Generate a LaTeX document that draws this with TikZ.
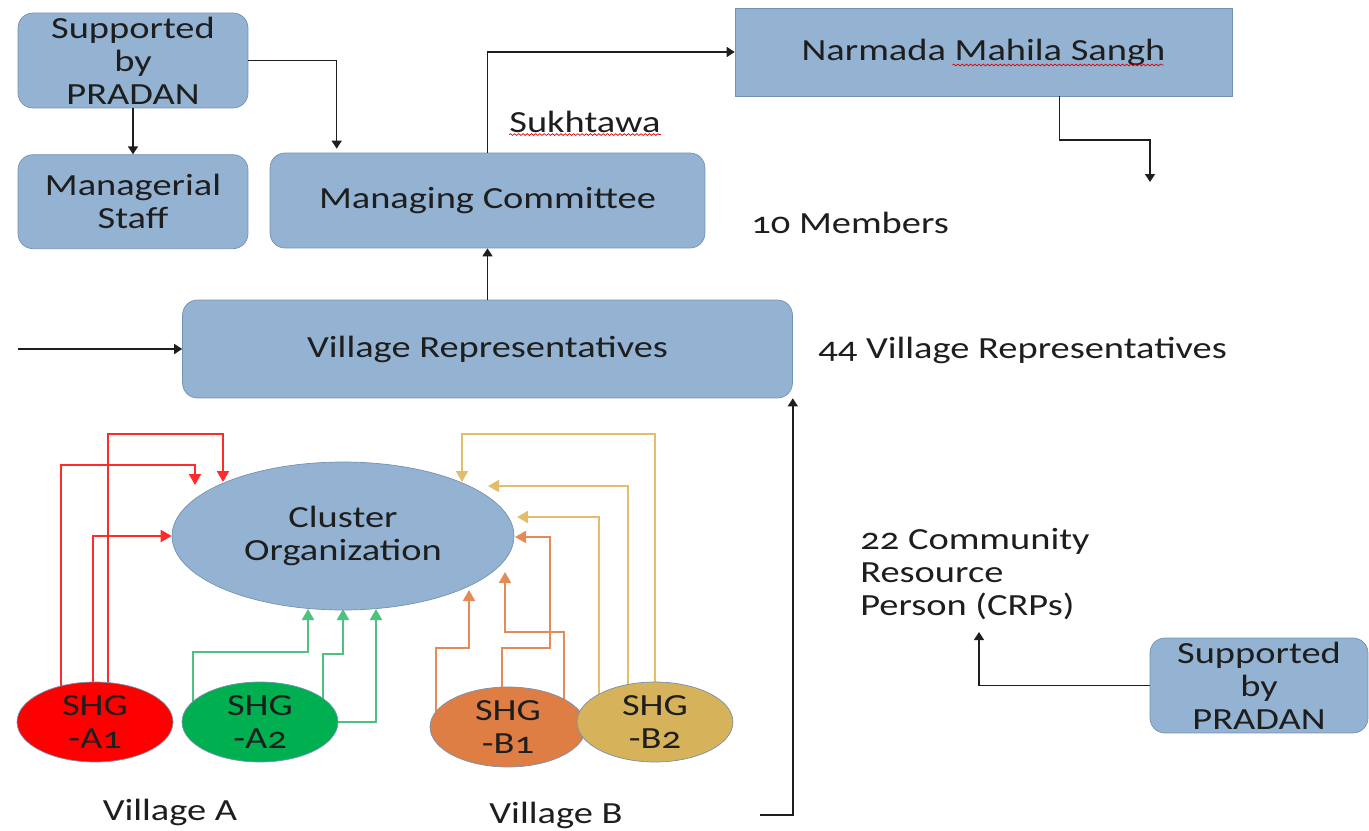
\documentclass[tikz,border=0pt]{standalone}
\usepackage{fontspec}
\setmainfont[FakeStretch=1.25,Numbers=OldStyle]{Carlito}
\usepackage{tikz}
\usetikzlibrary{arrows.meta, positioning, shapes.geometric, backgrounds, calc, decorations.pathmorphing}
\definecolor{boxFill}{HTML}{94B3D2}
\definecolor{boxLine}{HTML}{7491B0}
\definecolor{inkDark}{HTML}{1E1E1E}
\definecolor{shgRed}{HTML}{FF0000}
\definecolor{shgGreen}{HTML}{00B050}
\definecolor{shgOrange}{HTML}{DE7E45}
\definecolor{shgGold}{HTML}{D6B25A}
\definecolor{lineRed}{HTML}{FF2A2A}
\definecolor{lineGreen}{HTML}{4CC27E}
\definecolor{lineOrange}{HTML}{E58A55}
\definecolor{lineGold}{HTML}{E2BE6A}
\newcommand\orgfont{\fontsize{17.5pt}{18.8pt}\selectfont}

\begin{document}
\begin{tikzpicture}[
  x=0.02cm, y=-0.02cm,
  unit/.style={draw=boxLine, fill=boxFill, rounded corners=0.3cm, align=center, font=\orgfont, text=inkDark, inner sep=0pt},
  shg/.style={ellipse, draw=boxLine, minimum width=3.12cm, minimum height=1.6cm, align=center, font=\orgfont, text=inkDark, inner sep=-2pt},
  note/.style={align=left, font=\orgfont, text=inkDark, inner sep=0pt},
  link/.style={-{Triangle[length=1.6mm, width=2mm]}, line width=0.9pt, inkDark},
  feed/.style={-{Triangle[length=2.2mm, width=2.4mm]}, line width=1.1pt},
  spell/.style={draw=red!85!black, line width=0.4pt, decorate, decoration={snake, amplitude=0.5pt, segment length=2.4pt}}
]
  \useasboundingbox (0,0) rectangle (1369,831);

  % top boxes
  \node[unit, minimum width=4.6cm, minimum height=1.9cm] (sup) at (133,60.5) {Supported\\by\\PRADAN};
  \node[unit, minimum width=4.6cm, minimum height=1.88cm, below=0.92cm of sup] (staff) {Managerial\\Staff};
  \node[unit, minimum width=8.7cm, minimum height=1.9cm] (mc) at (487.5,200.5) {Managing Committee};
  \node[unit, rounded corners=0pt, minimum width=9.94cm, minimum height=1.76cm] (nms) at (983.5,52) {Narmada Mahila Sangh};
  \node[unit, minimum width=12.2cm, minimum height=1.96cm] (vr) at (487.5,349) {Village Representatives};

  % cluster and SHGs
  \node[shg, fill=boxFill, minimum width=6.84cm, minimum height=2.96cm] (co) at (343,536) {Cluster\\Organization};
  \node[shg, fill=shgRed] (a1) at (95,722) {SHG\\-A1};
  \node[shg, fill=shgGreen] (a2) at (260,722) {SHG\\-A2};
  \node[shg, fill=shgOrange] (b1) at (508,727) {SHG\\-B1};
  \node[shg, fill=shgGold] (b2) at (655,722) {SHG\\-B2};

  \node[unit, minimum width=4.36cm, minimum height=1.9cm] (sup2) at (1259,685.5) {Supported\\by\\PRADAN};

  % side notes
  \node[note] (sukh) at (585,122) {Sukhtawa};
  \node[note, anchor=west] (mem) at (751,223) {10 Members};
  \node[note, anchor=west] (vrnum) at (818,350) {44 Village Representatives};
  \node[note, anchor=west] (crp) at (860,574) {22 Community\\Resource\\Person (CRPs)};
  \node[note] (vila) at (170,812) {Village A};
  \node[note] (vilb) at (556,815) {Village B};

  \draw[spell] ($(sukh.base west)+(0,2)$) -- ($(sukh.base east)+(0,2)$);
  \draw[spell] ($(nms.center)+(-31,13)$) -- ($(nms.center)+(180,13)$);

  % black links
  \coordinate (nmsout) at (1150,182);
  \coordinate (vrin) at (18,349);
  \coordinate (crpin) at (760,815);
  \coordinate (crpto) at (979,632);
  \draw[link] (sup) -- (staff);
  \draw[link] (sup.east) -| ($(mc.north west)+(67,-4)$);
  \draw[link] (mc.north) |- (nms.west);
  \draw[link] ($(nms.south)+(76,0)$) |- ($(nmsout)+(0,-42)$) -- (nmsout);
  \draw[link] (vr) -- (mc);
  \draw[link] (vrin) -- (vr.west);
  \draw[link] (crpin) -| (vr.south east);
  \draw[link] (sup2.west) -| (crpto);

  % SHG feeds into the cluster
  \begin{scope}[on background layer]
    \draw[feed, lineRed] ($(a1)+(-34,0)$) |- ($(co)+(-148,-71)$) -- ($(co)+(-148,-51)$);
    \draw[feed, lineRed] ($(a1)+(13,0)$) |- ($(co)+(-120,-102)$) -- ($(co)+(-120,-54)$);
    \draw[feed, lineRed] ($(a1)+(-2,0)$) |- (co.west);
    \draw[feed, lineGreen] ($(a2)+(-67,0)$) |- ($(co)+(-35,116)$) -- ($(co)+(-35,73)$);
    \draw[feed, lineGreen] ($(a2)+(63,0)$) |- ($(co)+(0,118)$) -- ($(co)+(0,73)$);
    \draw[feed, lineGreen] (a2.east) -| ($(co)+(33,73)$);
    \draw[feed, lineOrange] ($(b1)+(-72,0)$) |- ($(co)+(126,112)$) -- ($(co)+(126,54)$);
    \draw[feed, lineOrange] ($(b1)+(-6,0)$) |- ($(co)+(207,112)$) |- ($(co)+(172,1)$);
    \draw[feed, lineOrange] ($(b1)+(56,0)$) |- ($(co)+(162,96)$) -- ($(co)+(162,36)$);
    \draw[feed, lineGold] (b2) |- ($(co)+(119,-102)$) -- ($(co)+(119,-54)$);
    \draw[feed, lineGold] ($(b2)+(-27,0)$) |- ($(co)+(145,-50)$);
    \draw[feed, lineGold] ($(b2)+(-56,0)$) |- ($(co)+(174,-19)$);
  \end{scope}
\end{tikzpicture}
\end{document}
